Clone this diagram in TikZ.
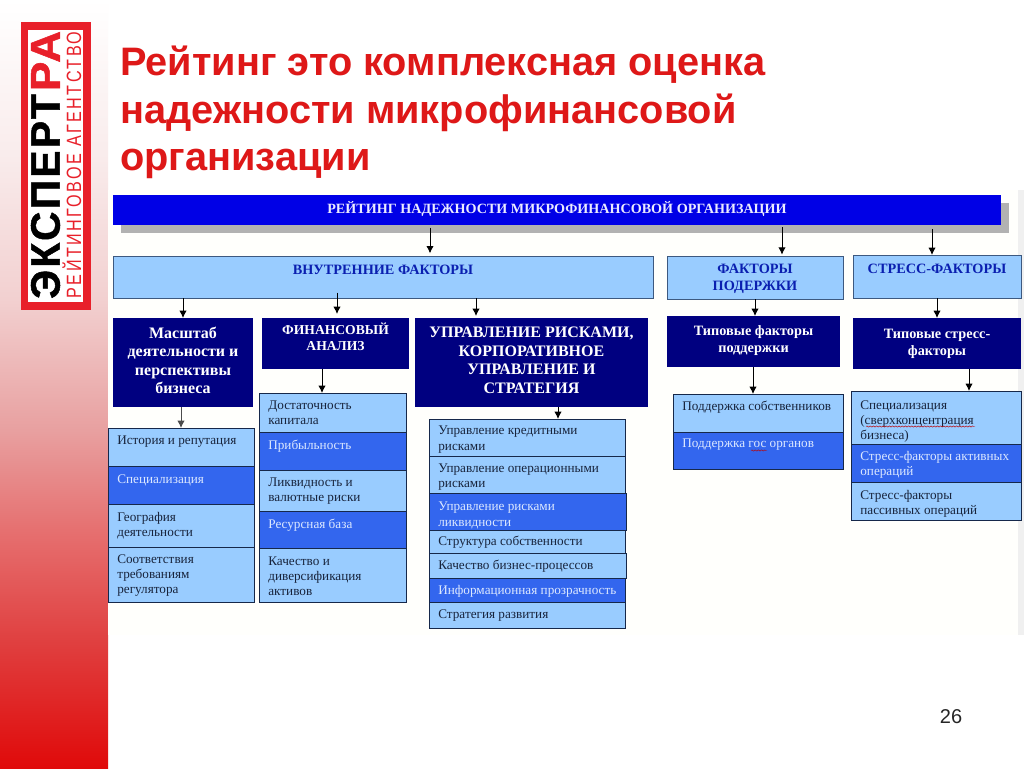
\documentclass[tikz,border=0pt]{standalone}
\usepackage{fontspec}
\setmainfont{Liberation Serif}
\newfontfamily\arialf{Liberation Sans}
\newfontfamily\logof[FakeBold=1.2,LetterSpace=6]{Liberation Sans Bold}
\newfontfamily\logos[LetterSpace=15]{Liberation Sans}
\usetikzlibrary{decorations.pathmorphing,arrows.meta}
\definecolor{titlered}{HTML}{DE1818}
\definecolor{logored}{HTML}{E8202A}
\definecolor{lightb}{HTML}{99CCFF}
\definecolor{midb}{HTML}{3366EE}
\definecolor{navyb}{HTML}{000080}
\definecolor{topb}{HTML}{0000E6}
\definecolor{edgeb}{HTML}{16284A}
\definecolor{txtd}{HTML}{18243C}
\definecolor{txtl}{HTML}{DCE8FF}
\definecolor{headb}{HTML}{0A1FB0}
\definecolor{s0}{HTML}{E00A0A}
\definecolor{s1}{HTML}{E04040}
\definecolor{s2}{HTML}{E67070}
\definecolor{s3}{HTML}{E8A0A0}
\definecolor{s4}{HTML}{F2D0D0}
\definecolor{s5}{HTML}{F9ECEC}
\pgfdeclareverticalshading{stripshade}{100bp}{
 color(0bp)=(s0);
 color(25bp)=(s0);
 color(33.3bp)=(s1);
 color(40.5bp)=(s2);
 color(47bp)=(s3);
 color(55.5bp)=(s4);
 color(65bp)=(s5);
 color(75bp)=(white);
 color(100bp)=(white)}
\tikzset{
 lightbox/.style={draw=edgeb,line width=.7pt,fill=lightb,text=txtd,font=\fontsize{9.9}{11.3}\selectfont},
 midbox/.style={draw=edgeb,line width=.7pt,fill=midb,text=txtl,font=\fontsize{9.9}{11.3}\selectfont},
 headbox/.style={draw=edgeb!70!lightb,line width=.7pt,fill=lightb,text=headb,font=\fontsize{10.7}{13}\selectfont\bfseries},
 darkbox/.style={fill=navyb,text=white,font=\fontsize{12}{13.8}\selectfont\bfseries},
 darkmid/.style={fill=navyb,text=white,font=\fontsize{10.7}{12.8}\selectfont\bfseries},
 darkcaps/.style={fill=navyb,text=white,font=\fontsize{10.2}{12}\selectfont\bfseries},
 arr/.style={draw=black,line width=.7pt,-{Latex[length=5.5pt,width=5.5pt]}},
 spell/.style={draw=red!75!black,line width=.35pt,decorate,decoration={snake,amplitude=.45pt,segment length=2.4pt}}
}
\newcommand\lbx[8]{%
 \pgfmathsetlengthmacro\bw{(#4-#2)*.75pt}\pgfmathsetlengthmacro\bh{(#5-#3)*.75pt}%
 \node[#6,anchor=north west,inner sep=0pt,outer sep=0pt] (#1) at (#2,#3)
 {\parbox[c][\bh][t]{\bw}{\vspace*{#7pt}\raggedright\leftskip=7pt #8}};}
\newcommand\cbx[8]{%
 \pgfmathsetlengthmacro\bw{(#4-#2)*.75pt}\pgfmathsetlengthmacro\bh{(#5-#3)*.75pt}%
 \node[#6,anchor=north west,inner sep=0pt,outer sep=0pt] (#1) at (#2,#3)
 {\parbox[c][\bh][t]{\bw}{\vspace*{#7pt}\centering #8}};}
\begin{document}
\begin{tikzpicture}[x=.75pt,y=-.75pt]
\useasboundingbox (0,0) rectangle (1024,768);
\fill[white] (0,0) rectangle (1024,768);
\shade[shading=stripshade] (0,0) rectangle (108,768);
\fill[white!99!yellow] (108,190) rectangle (1018,635);
\fill[black!6] (1018,190) rectangle (1024,635);
% logo
\node[fill=logored,minimum width=52.5pt,minimum height=216pt,inner sep=0pt,anchor=north west] (logo) at (21,22) {};
\node[fill=white,minimum width=41pt,minimum height=204pt,inner sep=0pt,anchor=north west] (logoin) at (28,30) {};
\node[rotate=90,inner sep=0pt] (lg1) at (45.5,196.5) {\resizebox{153.5pt}{21.5pt}{\logof ЭКСПЕРТ}};
\node[rotate=90,inner sep=0pt] (lg2) at (45.5,61) {\resizebox{45pt}{21.5pt}{\logof\color{logored}РА}};
\node[rotate=90,inner sep=0pt] (lg3) at (72,165) {\resizebox{200pt}{14pt}{\logos\color{logored}РЕЙТИНГОВОЕ АГЕНТСТВО}};
% title
\node[anchor=north west,inner sep=0pt,align=left,text=titlered,font=\arialf\fontsize{29.8}{35.4}\selectfont\bfseries] (title) at (120,46) {Рейтинг это комплексная оценка\\надежности микрофинансовой\\организации};
\node[inner sep=0pt,font=\arialf\fontsize{15}{18}\selectfont,text=black!85] (page) at (951,717) {26};
% top
\fill[black!30] (121,203) rectangle (1009,233);
\cbx{top}{113}{195}{1001}{225}{fill=topb,text=white!92!blue,font=\fontsize{10.6}{12}\selectfont\bfseries}{4.5}{РЕЙТИНГ НАДЕЖНОСТИ МИКРОФИНАНСОВОЙ ОРГАНИЗАЦИИ}
% level 1
\cbx{inner}{113}{256}{653}{298}{headbox}{7}{ВНУТРЕННИЕ ФАКТОРЫ}
\cbx{supp}{667}{256}{843}{299}{headbox}{6}{ФАКТОРЫ\\ПОДЕРЖКИ}
\cbx{stress}{853}{255}{1021}{298}{headbox}{7}{СТРЕСС-ФАКТОРЫ}
% level 2
\cbx{d1}{113}{318}{253}{407}{darkbox}{6.75}{Масштаб\\деятельности и\\перспективы\\бизнеса}
\cbx{d2}{262}{318}{409}{369}{darkcaps}{4}{ФИНАНСОВЫЙ\\АНАЛИЗ}
\cbx{d3}{415}{318}{648}{407}{darkbox}{7}{УПРАВЛЕНИЕ РИСКАМИ,\\КОРПОРАТИВНОЕ\\УПРАВЛЕНИЕ И\\СТРАТЕГИЯ}
\cbx{d4}{667}{316}{840}{367}{darkmid}{7.25}{Типовые факторы\\поддержки}
\cbx{d5}{853}{318}{1021}{369}{darkmid}{8.25}{Типовые стресс-\\факторы}
% list 1
\lbx{a1}{108}{428}{254}{466}{lightbox}{6}{История и репутация}
\lbx{a2}{108}{466}{254}{504}{midbox}{6.7}{Специализация}
\lbx{a3}{108}{504}{254}{547}{lightbox}{6}{География\\деятельности}
\lbx{a4}{108}{547}{254}{602}{lightbox}{5.7}{Соответствия\\требованиям\\регулятора}
% list 2
\lbx{b1}{259}{393}{406}{432}{lightbox}{6}{Достаточность\\капитала}
\lbx{b2}{259}{432}{406}{470}{midbox}{6}{Прибыльность}
\lbx{b3}{259}{470}{406}{511}{lightbox}{5.7}{Ликвидность и\\валютные риски}
\lbx{b4}{259}{511}{406}{548}{midbox}{5.7}{Ресурсная база}
\lbx{b5}{259}{548}{406}{602}{lightbox}{6.5}{Качество и\\диверсификация\\активов}
% list 3
\lbx{c1}{429}{419}{625}{456}{lightbox}{5.5}{Управление кредитными\\рисками}
\lbx{c2}{429}{456}{625}{493}{lightbox}{6}{Управление операционными\\рисками}
\lbx{c3}{429}{493}{626}{530}{midbox}{7}{Управление рисками\\ликвидности}
\lbx{c4}{429}{530}{625}{553}{lightbox}{4.2}{Структура собственности}
\lbx{c5}{429}{553}{626}{578}{lightbox}{5}{Качество бизнес-процессов}
\lbx{c6}{429}{578}{625}{602}{midbox}{5.5}{Информационная прозрачность}
\lbx{c7}{429}{602}{625}{628}{lightbox}{5.5}{Стратегия развития}
% list 4
\lbx{e1}{673}{394}{843}{432}{lightbox}{5}{Поддержка собственников}
\lbx{e2}{673}{432}{843}{469}{midbox}{5.5}{Поддержка гос органов}
% list 5
\lbx{f1}{851}{391}{1021}{444}{lightbox}{7}{Специализация\\(сверхконцентрация\\бизнеса)}
\lbx{f2}{851}{444}{1021}{482}{midbox}{5.5}{Стресс-факторы активных\\операций}
\lbx{f3}{851}{482}{1021}{520}{lightbox}{6}{Стресс-факторы\\пассивных операций}
% spelling marks
\coordinate (sp1a) at (866,426.5); \coordinate (sp1b) at (975,426.5);
\coordinate (sp2a) at (751,450.5); \coordinate (sp2b) at (767,450.5);
\draw[spell] (sp1a) -- (sp1b);
\draw[spell] (sp2a) -- (sp2b);
% arrow x positions
\coordinate (xa) at (430,0); \coordinate (xb) at (782,0); \coordinate (xc) at (932,0);
\coordinate (xd) at (183,0); \coordinate (xe) at (337,0); \coordinate (xf) at (476,0);
\coordinate (xg) at (181,0); \coordinate (xh) at (322,0); \coordinate (xi) at (558,0);
\coordinate (xj) at (755,0); \coordinate (xk) at (753,0); \coordinate (xl) at (937,0);
\coordinate (xm) at (969,0);
\draw[arr,shorten <=2pt,shorten >=2pt] (top.south -| xa) -- (inner.north -| xa);
\draw[arr,shorten <=1.5pt,shorten >=1pt] (top.south -| xb) -- (supp.north -| xb);
\draw[arr,shorten <=3pt] (top.south -| xc) -- (stress.north -| xc);
\draw[arr] (inner.south -| xd) -- (d1.north -| xd);
\draw[arr,shorten >=3pt,shorten <=-4pt] (inner.south -| xe) -- (d2.north -| xe);
\draw[arr,shorten >=1.5pt] (inner.south -| xf) -- (d3.north -| xf);
\draw[arr,draw=black!70] (d1.south -| xg) -- (a1.north -| xg);
\draw[arr] (d2.south -| xh) -- (b1.north -| xh);
\draw[arr] (d3.south -| xi) -- (c1.north -| xi);
\draw[arr] (supp.south -| xj) -- (d4.north -| xj);
\draw[arr] (d4.south -| xk) -- (e1.north -| xk);
\draw[arr] (stress.south -| xl) -- (d5.north -| xl);
\draw[arr] (d5.south -| xm) -- (f1.north -| xm);
\end{tikzpicture}
\end{document}
